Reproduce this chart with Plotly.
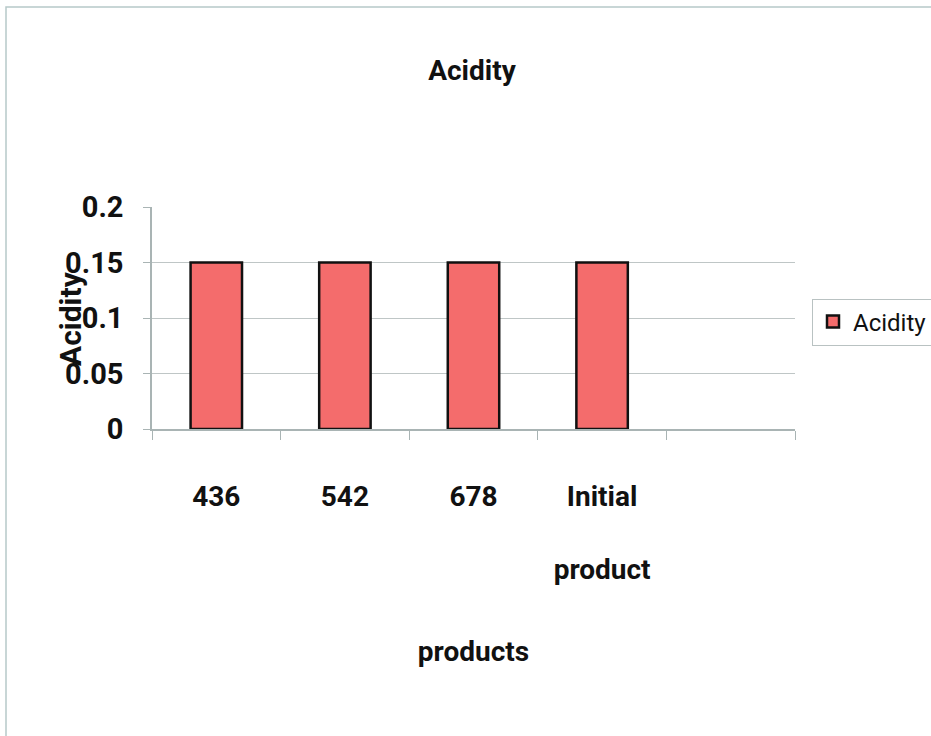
import plotly.graph_objects as go

# Acidity measured for each product sample
products = ["436", "542", "678", "Initial<br><br>product", " "]
acidity = [0.15, 0.15, 0.15, 0.15, None]
y_ticks = [0, 0.05, 0.1, 0.15, 0.2]
grid_vals = [0.05, 0.1, 0.15]

FONT = "Roboto, Liberation Sans, sans-serif"
BAR_COLOR = "#F46C6C"
AXIS_GREY = "#a9b4b4"

W, H = 931, 736
L, R, T, B = 152, 136, 207, 307
PW, PH = W - L - R, H - T - B


def px_x(p):
    """container pixel -> plot-area paper x"""
    return (p - L) / PW


def px_y(p):
    """container pixel (from top) -> plot-area paper y"""
    return (H - B - p) / PH


fig = go.Figure()
fig.add_trace(go.Bar(
    x=products, y=acidity, name="Acidity",
    marker=dict(color=BAR_COLOR, line=dict(color="#111111", width=2.5)),
    width=0.4,
))
# invisible companion trace carrying the horizontal gridlines on a second y axis
fig.add_trace(go.Scatter(x=[products[0]], y=[0], yaxis="y2", mode="markers",
                         marker=dict(opacity=0), showlegend=False, hoverinfo="skip"))

fig.update_layout(
    width=W, height=H,
    margin=dict(l=L, r=R, t=T, b=B, autoexpand=False),
    paper_bgcolor="white", plot_bgcolor="white",
    font=dict(family=FONT, color="#111111"),
    title=dict(text="<b>Acidity</b>", x=472 / W, xanchor="center",
               y=1 - 70 / H, yanchor="middle",
               font=dict(family=FONT, size=28, color="#111111")),
    xaxis=dict(
        type="category", categoryorder="array", categoryarray=products,
        tickson="boundaries", ticks="outside", ticklen=9, tickcolor=AXIS_GREY,
        showline=True, linecolor=AXIS_GREY, linewidth=1.5, tickangle=0,
        showgrid=False, ticklabelstandoff=42,
        tickfont=dict(family=FONT, size=28, color="#111111", weight="bold"),
        title=dict(text="<b>products</b>", standoff=56,
                   font=dict(family=FONT, size=28, color="#111111")),
    ),
    yaxis=dict(
        range=[0, 0.2], tickvals=y_ticks, ticktext=[f"{v:g}" for v in y_ticks],
        ticks="outside", ticklen=7, tickcolor=AXIS_GREY,
        showline=True, linecolor=AXIS_GREY, linewidth=1.5,
        showgrid=False, zeroline=False, ticklabelstandoff=14,
        tickfont=dict(family=FONT, size=29, color="#111111", weight="bold"),
    ),
    yaxis2=dict(
        overlaying="y", range=[0, 0.2], tickvals=grid_vals,
        showgrid=True, gridcolor="#bfc6c6", gridwidth=1.3,
        showticklabels=False, showline=False, zeroline=False, ticks="",
    ),
    legend=dict(
        x=px_x(812), xanchor="left",
        y=px_y(322), yanchor="middle",
        bordercolor="#b9c2c2", borderwidth=1, bgcolor="white",
        font=dict(family=FONT, size=24, color="#111111"),
        itemwidth=30,
    ),
    showlegend=True,
    annotations=[dict(
        text="<b>Acidity</b>", textangle=-90, showarrow=False,
        xref="paper", yref="paper",
        x=px_x(70), y=px_y(318),
        xanchor="center", yanchor="middle",
        font=dict(family=FONT, size=30, color="#111111"),
    )],
    shapes=[dict(
        type="rect", xref="paper", yref="paper", layer="below",
        x0=px_x(6), x1=px_x(945),
        y0=px_y(760), y1=px_y(7),
        line=dict(color="#b7c9c9", width=1.5),
    )],
)

fig.write_html("out.html")
